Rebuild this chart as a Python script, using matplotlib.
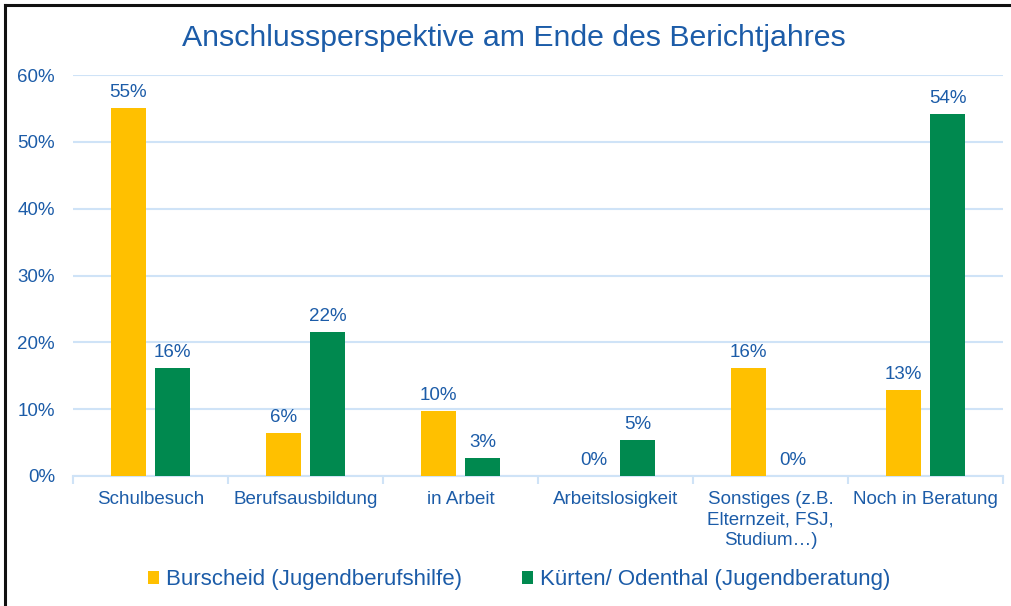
import matplotlib
matplotlib.use("Agg")
import matplotlib.pyplot as plt
from matplotlib.lines import Line2D
import numpy as np

categories = [
    "Schulbesuch",
    "Berufsausbildung",
    "in Arbeit",
    "Arbeitslosigkeit",
    "Sonstiges (z.B.\nElternzeit, FSJ,\nStudium…)",
    "Noch in Beratung",
]
burscheid = [55.0, 6.5, 9.7, 0.0, 16.1, 12.9]
kuerten = [16.2, 21.6, 2.7, 5.4, 0.0, 54.1]
series_names = ["Burscheid (Jugendberufshilfe)", "Kürten/ Odenthal (Jugendberatung)"]
yticks = [0, 10, 20, 30, 40, 50, 60]

BLUE = "#1C5CA8"
YELLOW = "#FFC000"
GREEN = "#00894F"
GRID = "#CFE3F7"

plt.rcParams["font.family"] = ["Liberation Sans", "DejaVu Sans"]

fig = plt.figure(figsize=(10.12, 6.06), dpi=100)
ax = fig.add_axes([73 / 1012, 1 - 476 / 606, 930 / 1012, 401 / 606])

x = np.arange(len(categories))
w = 0.225
off = 0.142
b1 = ax.bar(x - off, burscheid, width=w, color=YELLOW, label=series_names[0], zorder=3)
b2 = ax.bar(x + off, kuerten, width=w, color=GREEN, label=series_names[1], zorder=3)

for bars, vals in [(b1, burscheid), (b2, kuerten)]:
    for bar, v in zip(bars, vals):
        ax.annotate(f"{v:.0f}%", (bar.get_x() + bar.get_width() / 2, bar.get_height()),
                    xytext=(0, 5), textcoords="offset points",
                    ha="center", va="bottom", fontsize=13.5, color=BLUE)

ax.set_xlim(-0.5, len(categories) - 0.5)
ax.set_ylim(0, 60)
ax.set_yticks(yticks)
ax.set_yticklabels([f"{t}%" for t in yticks])
ax.set_xticks(x)
ax.set_xticklabels(categories, fontsize=13.5, color=BLUE, va="top", linespacing=1.25)
ax.set_xticks(np.arange(len(categories) + 1) - 0.5, minor=True)
ax.tick_params(axis="x", which="major", length=0, pad=11)
ax.tick_params(axis="x", which="minor", length=6, color=GRID, width=1.5)
ax.tick_params(axis="y", length=0, pad=13, labelsize=13.5, labelcolor=BLUE)

ax.grid(axis="y", color=GRID, linewidth=1.5, zorder=0)
for s in ["top", "right", "left"]:
    ax.spines[s].set_visible(False)
ax.spines["bottom"].set_color(GRID)
ax.spines["bottom"].set_linewidth(1.5)

fig.text(514 / 1012, 1 - 38 / 606, "Anschlussperspektive am Ende des Berichtjahres",
         ha="center", va="center", fontsize=21.8, color=BLUE)

fig.legend(handles=[b1, b2], loc="center", bbox_to_anchor=(519 / 1012, 1 - 580 / 606),
           ncol=2, frameon=False, fontsize=16, labelcolor=BLUE,
           handlelength=0.5, handleheight=0.5, handletextpad=0.3, columnspacing=2.7)

# dark frame on top and left edge
fig.add_artist(Line2D([4.5 / 1012, 4.5 / 1012], [0, 1 - 5 / 606], color="#111111",
                      linewidth=2.2, transform=fig.transFigure))
fig.add_artist(Line2D([4.5 / 1012, 1], [1 - 5 / 606, 1 - 5 / 606], color="#111111",
                      linewidth=2.2, transform=fig.transFigure))

fig.savefig("out.png", dpi=100)
